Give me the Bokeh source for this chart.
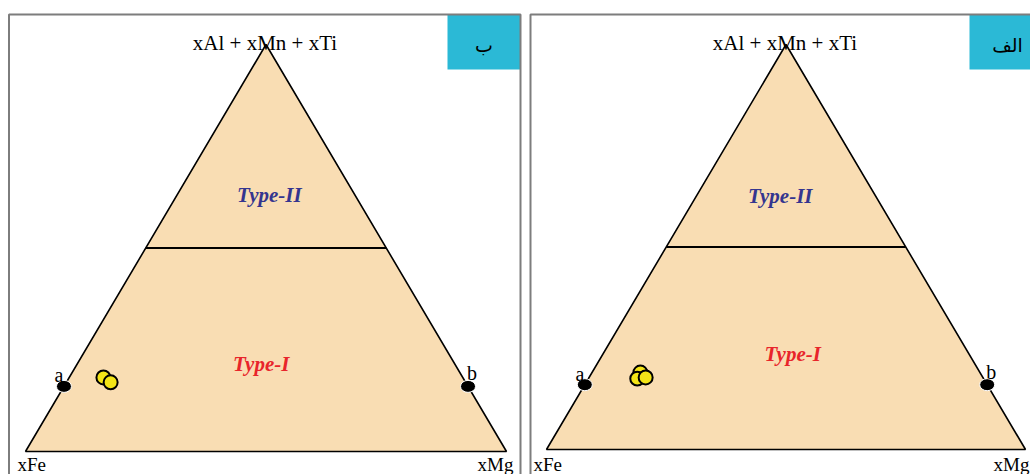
from bokeh.plotting import figure
from bokeh.layouts import row
from bokeh.models import Range1d
from bokeh.core.properties import value
from bokeh.embed import file_html
from bokeh.resources import INLINE

# ---------------- data ----------------
vertex_labels = ["xFe", "xMg", "xAl + xMn + xTi"]
region_labels = ["Type-I", "Type-II"]
boundary_t = 0.5                      # Type-I / Type-II boundary (top component)
panel_tags = ["ب", "الف"]

# end-member points a (Fe side) and b (Mg side): [xMg, xTop]
end_labels = ["a", "b"]
end_mg = [0.0, 0.84]
end_t = [0.16, 0.16]

# samples, panel "ب" (left)
samples_b_mg = [0.071, 0.092]
samples_b_t = [0.182, 0.170]
# samples, panel "الف" (right)
samples_alef_mg = [0.101, 0.102, 0.118]
samples_alef_t = [0.190, 0.175, 0.178]

# ---------------- style ----------------
H = 474
FILL = "#F9DDB3"
SERIF = "Liberation Serif"
BORDER = "#7d7d7d"
CYAN = "#2BB9D6"


def tern(mg, t):
    """ternary (xMg, xTop) -> cartesian (x, y) of a unit-base triangle"""
    xs = [m + tt / 2.0 for m, tt in zip(mg, t)]
    ys = list(t)
    return xs, ys


def panel(width, fe_px, mg_px, apex_y, base_y, frame_l, frame_r, box_l, box_r,
          tag, s_mg, s_t, lab_pos, xfe_off, xmg_off, vlab_off):
    sx = mg_px - fe_px
    sy = base_y - apex_y
    p = figure(width=width, height=H, output_backend="svg", toolbar_location=None,
               x_range=Range1d(-fe_px / sx, (width - fe_px) / sx),
               y_range=Range1d(-(H - base_y) / sy, base_y / sy),
               x_axis_type=None, y_axis_type=None, min_border=0,
               outline_line_color=None, background_fill_color="white",
               border_fill_color="white")
    p.grid.visible = False

    def dx(c):
        return (c - fe_px) / sx

    def dy(c):
        return (base_y - c) / sy

    top = 14
    # tag box
    p.quad(left=[dx(box_l)], right=[dx(box_r)], top=[dy(top)], bottom=[dy(69)],
           fill_color=CYAN, line_color=None)
    p.text(x=[dx((box_l + box_r) / 2)], y=[dy(44)], text=[tag],
           text_font=value("DejaVu Sans"), text_font_size="19px",
           text_color="black", text_align="center", text_baseline="middle")
    # panel frame
    p.line([dx(frame_l), dx(frame_l), dx(frame_r), dx(frame_r)],
           [dy(H + 10), dy(top), dy(top), dy(H + 10)],
           line_color=BORDER, line_width=2)

    # triangle
    tx, ty = tern([0, 1, 0], [0, 0, 1])
    p.patch(tx, ty, fill_color=FILL, line_color="black", line_width=1.6)
    # boundary
    bx, by = tern([0, 1 - boundary_t], [boundary_t, boundary_t])
    p.line(bx, by, line_color="black", line_width=2.2)

    # region labels
    (t1x, t1y), (t2x, t2y) = lab_pos
    p.text(x=[t1x], y=[t1y], text=[region_labels[0]], text_font=value(SERIF),
           text_font_size="21px", text_font_style="bold italic",
           text_color="#E8252B", text_align="center", text_baseline="middle")
    p.text(x=[t2x], y=[t2y], text=[region_labels[1]], text_font=value(SERIF),
           text_font_size="21px", text_font_style="bold italic",
           text_color="#34358F", text_align="center", text_baseline="middle")

    # vertex labels
    p.text(x=[0.0], y=[0.0], text=[vertex_labels[0]], text_font=value(SERIF),
           text_font_size="19px", text_color="black", text_align="left",
           text_baseline="alphabetic", x_offset=xfe_off, y_offset=vlab_off)
    p.text(x=[1.0], y=[0.0], text=[vertex_labels[1]], text_font=value(SERIF),
           text_font_size="19px", text_color="black", text_align="right",
           text_baseline="alphabetic", x_offset=xmg_off, y_offset=vlab_off)
    p.text(x=[0.5], y=[1.0], text=[vertex_labels[2]], text_font=value(SERIF),
           text_font_size="21px", text_color="black", text_align="center",
           text_baseline="alphabetic", x_offset=-1, y_offset=-2)

    # end members a, b
    ex, ey = tern(end_mg, end_t)
    p.ellipse(x=ex, y=ey, width=15, height=12, width_units="screen",
              height_units="screen", fill_color="black", line_color="white",
              line_width=1)
    p.text(x=[ex[0]], y=[ey[0]], text=[end_labels[0]], text_font=value(SERIF),
           text_font_size="20px", text_color="black", text_align="center",
           text_baseline="alphabetic", x_offset=-5, y_offset=-11)
    p.text(x=[ex[1]], y=[ey[1]], text=[end_labels[1]], text_font=value(SERIF),
           text_font_size="20px", text_color="black", text_align="center",
           text_baseline="alphabetic", x_offset=4, y_offset=-13)

    # samples
    sxs, sys_ = tern(s_mg, s_t)
    p.scatter(sxs, sys_, marker="circle", size=14, fill_color="#F3E417",
              line_color="black", line_width=2)
    return p


p_left = panel(525, 25, 506, 44, 451, 8.5, 520, 447, 520, panel_tags[0],
               samples_b_mg, samples_b_t,
               [(0.49, 0.214), (0.507, 0.629)], -8, 7, 13)
p_right = panel(505, 21, 500, 44, 449, 5, 530, 444, 520, panel_tags[1],
                samples_alef_mg, samples_alef_t,
                [(0.514, 0.237), (0.488, 0.625)], -13, 4, 15)

layout = row(p_left, p_right, spacing=0)
open("out.html", "w").write(file_html(layout, INLINE))
